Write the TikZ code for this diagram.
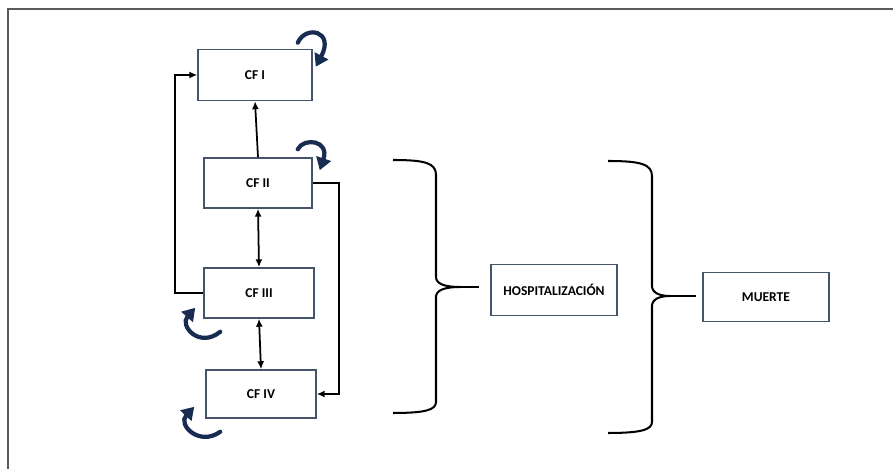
\documentclass[tikz,border=0pt]{standalone}
\usepackage{fontspec}
\setmainfont{Carlito}
\usetikzlibrary{arrows.meta, positioning, calc}
\definecolor{boxslate}{RGB}{68,84,106}
\definecolor{loopnavy}{RGB}{24,44,82}
\definecolor{framegray}{RGB}{90,90,90}
\tikzset{
  % Class box (parameterized by width)
  cfbox/.style={
    rectangle, draw=boxslate, line width=0.9pt, fill=white,
    font=\fontsize{7.7}{9}\selectfont\bfseries, minimum width=#1,
    minimum height=1cm, inner sep=0pt
  },
  cfarrow/.style={-{Latex[length=4.5pt, width=4pt]}, line width=1pt, black},
  cfdouble/.style={{Latex[length=4.5pt, width=4pt]}-{Latex[length=4.5pt, width=4pt]}, line width=1pt, black},
  % Self loop (stays in the same class)
  selfloop/.style={-{Triangle[length=7pt, width=8.5pt]}, line width=2.4pt, loopnavy, line cap=round},
  bracket/.style={line width=1.15pt, black}
}

\begin{document}
\begin{tikzpicture}[x=0.02cm, y=-0.02cm]
  \useasboundingbox (0,0) rectangle (894,469);
  % Frame
  \draw[framegray, line width=1.1pt] (8,469) -- (8,9) -- (893,9);

  % Functional classes
  \node[cfbox=2.28cm, minimum height=1.02cm] (cf1) at (255,75) {CF I};
  \node[cfbox=2.16cm] (cf2) at (258,183) {CF II};
  \node[cfbox=2.2cm] (cf3) at (259,293) {CF III};
  \node[cfbox=2.2cm, minimum height=0.96cm] (cf4) at (261,394) {CF IV};

  % Outcomes
  \node[cfbox=2.52cm, minimum height=1.02cm] (hosp) at (554,290) {HOSPITALIZACIÓN};
  \node[cfbox=2.52cm, minimum height=0.98cm] (death) at (766,297) {MUERTE};

  % Transitions
  \draw[cfarrow] (cf2.north) -- (cf1.south);
  \draw[cfdouble] (cf2.south) -- (cf3.north);
  \draw[cfdouble] (cf3.south) -- (cf4.north);
  \draw[cfarrow] (cf3.west) -- ++(-28,0) |- (cf1.west);
  \draw[cfarrow] (cf2.east) -- ++(26,0) |- (cf4.east);

  % Self loops
  \draw[selfloop] ($(cf1.north east)+(-15,-6)$) .. controls +(8,-18) and +(19,-36) .. ($(cf1.north east)+(3,18)$);
  \draw[selfloop] ($(cf2.north east)+(-15,-8)$) .. controls +(6,-12) and +(10,-30) .. ($(cf2.north east)+(7,13)$);
  \draw[selfloop] ($(cf3.south west)+(17,13)$) .. controls +(-21,17) and +(-16,18) .. ($(cf3.south west)+(-8,-11)$);
  \draw[selfloop] ($(cf4.south west)+(15,13)$) .. controls +(-21,15) and +(-17,18) .. ($(cf4.south west)+(-11,-12)$);

  % Brackets
  \coordinate (tip1) at (460,287);
  \draw[bracket] (393,160) .. controls (425,160) and (436,163) .. (436,175) -- (436,277)
    .. controls (436,284) and (445,287) .. (tip1)
    .. controls (445,287) and (436,290) .. (436,297) -- (436,402)
    .. controls (436,410) and (425,413) .. (393,413);
  \draw[bracket] (tip1) -- ([xshift=-0.22cm]hosp.west |- tip1);

  \coordinate (tip2) at (670,296);
  \draw[bracket] (608,161) .. controls (640,161) and (652,164) .. (652,176) -- (652,286)
    .. controls (652,293) and (660,296) .. (tip2)
    .. controls (660,296) and (652,299) .. (652,306) -- (652,422)
    .. controls (652,430) and (640,433) .. (608,433);
  \draw[bracket] (tip2) -- ([xshift=-0.12cm]death.west |- tip2);
\end{tikzpicture}
\end{document}
